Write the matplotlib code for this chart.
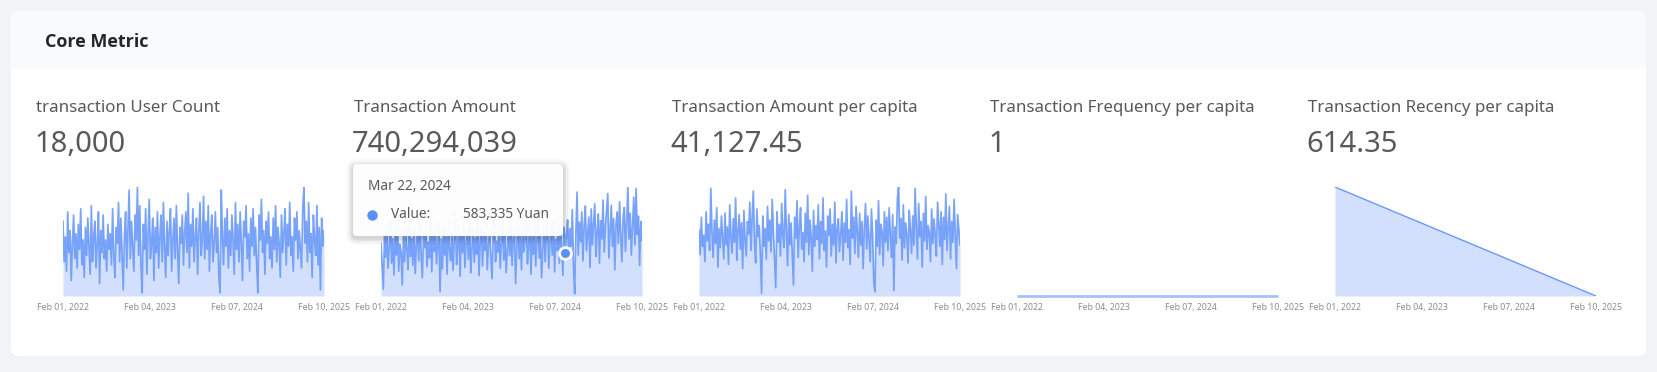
import numpy as np
import pandas as pd
import matplotlib.pyplot as plt
from matplotlib.patches import FancyBboxPatch, Rectangle

W, H = 1658, 372

# ---- data ----
start_date = "2022-02-01"
end_date = "2025-02-10"
tick_dates = ["2022-02-01", "2023-02-04", "2024-02-07", "2025-02-10"]

titles = ["transaction User Count", "Transaction Amount", "Transaction Amount per capita",
          "Transaction Frequency per capita", "Transaction Recency per capita"]
totals = ["18,000", "740,294,039", "41,127.45", "1", "614.35"]

user_count = [
    24, 11, 19, 8, 27, 14, 21, 5, 17, 26, 12, 20, 9, 23, 15, 28, 10, 18, 6, 22,
    13, 25, 16, 7, 29, 11, 19, 24, 9, 17, 27, 4, 21, 14, 26, 12, 18, 8, 23, 15,
    20, 10, 28, 13, 6, 22, 17, 30, 11, 25, 14, 2, 19, 27, 9, 21, 34, 12, 24, 16,
    8, 26, 18, 35, 13, 29, 10, 1, 23, 15, 28, 7, 20, 31, 12, 17, 25, 5, 22, 14,
    27, 9, 19, 26, 11, 30, 16, 6, 24, 13, 21, 28, 8, 18, 25, 12, 29, 15, 4, 22,
    17, 26, 10, 20, 27, 14, 33, 9, 23, 16, 28, 11, 19, 25, 7, 21, 30, 13, 18, 32,
    12, 24, 15, 29, 8, 20, 26, 11, 17, 27, 14, 22, 6, 1, 34, 19, 10, 25, 16, 28,
    9, 21, 13, 26, 18, 7, 30, 15, 23, 11, 27, 17, 5, 24, 19, 29, 12, 20, 8, 25,
    16, 28, 13, 22, 10, 1, 26, 18, 31, 14, 21, 7, 24, 17, 27, 12, 19, 9, 25, 15,
    29, 11, 22, 17, 6, 26, 14, 20, 28, 10, 23, 16, 30, 13, 19, 8, 25, 18, 27, 12,
    21, 15, 9, 28, 35, 17, 24, 11, 30, 14, 20, 6, 26, 18, 13, 29, 10, 22, 2, 25, 16, 21,
]

# transaction amount, thousand Yuan
amount_k = [
    720, 410, 95, 860, 530, 940, 380, 670, 1010, 450, 780, 290, 890, 560, 980, 340, 710, 600, 150, 830,
    470, 920, 620, 360, 1050, 540, 790, 420, 960, 310, 700, 870, 480, 1120, 580, 250, 820, 660, 990, 400,
    740, 520, 1080, 330, 860, 610, 930, 440, 690, 1000, 60, 780, 370, 950, 560, 820, 300, 1040, 640, 480,
    900, 350, 760, 1130, 430, 680, 970, 270, 840, 590, 1010, 390, 720, 880, 500, 1060, 320, 650, 920, 460,
    800, 570, 1090, 280, 730, 950, 410, 860, 620, 1020, 360, 690, 910, 540, 240, 830, 1070, 470, 750, 600,
    980, 380, 710, 1110, 490, 870, 320, 640, 940, 550, 1000, 420, 780, 890, 170, 670, 1050, 510, 820, 360,
    930, 600, 760, 1080, 440, 690, 1000, 300, 850, 570, 960, 410, 730, 1120, 520, 880, 250, 640, 990, 470,
    810, 1060, 380, 720, 930, 560, 1010, 330, 770, 620, 1100, 450, 860, 690, 280, 940, 583.335, 830, 1040, 500,
    920, 680, 1180, 410, 30, 870, 1420, 560, 1010, 740, 1150, 480, 960, 1230, 620, 850, 1080, 390, 1190, 700,
    980, 1260, 540, 870, 1120, 450, 1030, 780, 1310, 600, 940, 1170, 1400, 520, 890, 1240, 680, 1060, 360, 980,
    1150, 720, 1290, 830, 470, 1080, 1210, 610, 1000, 1490, 780, 1130, 560, 950, 1350, 700, 1470, 840, 1090, 420, 1020, 760,
]

# amount per capita, thousand Yuan
per_capita_k = [
    48, 30, 57, 36, 44, 25, 61, 40, 52, 33, 78, 46, 28, 55, 38, 64, 21, 49, 35, 58,
    42, 27, 60, 37, 50, 23, 66, 44, 31, 56, 39, 71, 26, 47, 59, 34, 53, 20, 62, 41,
    29, 54, 45, 68, 33, 57, 76, 38, 24, 63, 43, 51, 30, 2, 58, 36, 49, 27, 65, 40,
    55, 32, 70, 46, 26, 6, 61, 39, 52, 29, 67, 44, 35, 77, 48, 22, 59, 37, 53, 31,
    8, 57, 42, 69, 28, 50, 64, 34, 46, 25, 60, 39, 73, 30, 55, 43, 18, 62, 36, 51,
    41, 66, 27, 54, 38, 71, 33, 47, 21, 58, 44, 63, 29, 52, 37, 68, 24, 49, 56, 32,
    45, 61, 26, 53, 39, 70, 35, 48, 23, 76, 42, 57, 31, 65, 46, 28, 60, 37, 54, 20,
    50, 67, 34, 58, 41, 25, 63, 44, 10, 3, 55, 36, 69, 30, 52, 47, 22, 61, 39, 57,
    33, 64, 45, 28, 59, 4, 50, 38, 71, 79, 42, 56, 26, 66, 35, 53, 44, 24, 62, 48,
    31, 58, 37, 78, 49, 27, 67, 43, 54, 21, 60, 40, 72, 34, 51, 46, 25, 63, 38, 56,
    44, 29, 68, 52, 36, 61, 23, 57, 41, 74, 33, 49, 65, 27, 54, 39, 70, 45, 20, 59, 48, 37,
]

frequency = [1, 1]          # at start / end date
recency_days = [1105, 0]    # at start / end date

tooltip_date = "2024-03-22"

# ---- figure ----
BLUE = "#5B8FF9"
plt.rcParams["font.family"] = ["Noto Sans", "DejaVu Sans"]

fig = plt.figure(figsize=(W / 100, H / 100), dpi=100)
fig.patch.set_facecolor("#f2f3f7")

bg = fig.add_axes([0, 0, 1, 1], zorder=0)
bg.set_xlim(0, W)
bg.set_ylim(H, 0)
bg.axis("off")

bg.add_patch(FancyBboxPatch((11, 11), 1635, 345, boxstyle="round,pad=0,rounding_size=8",
                            fc="white", ec="none"))
bg.add_patch(FancyBboxPatch((11, 11), 1635, 58, boxstyle="round,pad=0,rounding_size=8",
                            fc="#f9fafc", ec="none"))
bg.add_patch(Rectangle((11, 50), 1635, 19, fc="#f9fafc", ec="none"))
bg.text(45, 42, "Core Metric", fontsize=13, fontweight="bold", color="#262626", va="center",
        family=["Open Sans", "DejaVu Sans"])

for i in range(5):
    bg.text(36 + i * 318, 108, titles[i], fontsize=12.2, color="#595959", va="center")
    bg.text(34 + i * 318, 145, totals[i], fontsize=21, color="#595959", va="center")

d5 = pd.date_range(start_date, end_date, freq="5D")
ends = pd.to_datetime([start_date, end_date])
series = [
    (d5, np.array(user_count, dtype=float)),
    (d5, np.array(amount_k) * 1000),
    (d5, np.array(per_capita_k) * 1000),
    (ends, np.array(frequency, dtype=float)),
    (ends, np.array(recency_days, dtype=float)),
]
ticks = pd.to_datetime(tick_dates)

axes = []
for i, (x, y) in enumerate(series):
    left = 63 + i * 318
    ax = fig.add_axes([left / W, (H - 296) / H, 261 / W, 109 / H], zorder=2)
    ax.patch.set_alpha(0)
    if i == 3:
        ax.plot(x, y, color=BLUE, lw=2.0, alpha=0.55, clip_on=False, solid_capstyle="butt")
        ax.set_ylim(1, 2)
    elif i == 4:
        ax.fill_between(x, y, 0, color=BLUE, alpha=0.27, lw=0)
        ax.plot(x, y, color=BLUE, lw=1.0, alpha=0.9)
        ax.set_ylim(0, y.max())
    else:
        ax.fill_between(x, y, 0, color=BLUE, alpha=0.27, lw=0)
        ax.plot(x, y, color=BLUE, lw=1.25, alpha=0.8)
        ax.set_ylim(0, y.max())
    ax.set_xlim(ends[0], ends[1])
    ax.set_xticks(ticks)
    ax.set_xticklabels([t.strftime("%b %d, %Y") for t in ticks], fontsize=6.3, color="#8c8c8c")
    ax.tick_params(axis="x", length=0, pad=5)
    ax.set_yticks([])
    for s in ax.spines.values():
        s.set_visible(False)
    axes.append(ax)

# hovered point on the amount chart
tip_x = pd.Timestamp(tooltip_date)
tip_val = series[1][1][list(d5).index(tip_x)]
axes[1].plot([tip_x], [tip_val], "o", ms=8.5, mfc=BLUE, mec="white", mew=2, zorder=5, clip_on=False)

# tooltip
fg = fig.add_axes([0, 0, 1, 1], zorder=10)
fg.set_xlim(0, W)
fg.set_ylim(H, 0)
fg.axis("off")
for k, a in [(7, 0.025), (5, 0.035), (3, 0.05), (1.5, 0.06)]:
    fg.add_patch(FancyBboxPatch((353 - k, 164 - k + 2), 210 + 2 * k, 72 + 2 * k,
                                boxstyle="round,pad=0,rounding_size=%g" % (4 + k),
                                fc="black", ec="none", alpha=a))
fg.add_patch(FancyBboxPatch((353, 164), 210, 72, boxstyle="round,pad=0,rounding_size=4",
                            fc="white", ec="none", alpha=0.96))
fg.text(368, 186, tip_x.strftime("%b %d, %Y"), fontsize=9.8, color="#595959", va="center")
fg.plot([372.5], [215], "o", ms=6.5, color=BLUE)
fg.text(391, 215, "Value:", fontsize=9.8, color="#595959", va="center")
fg.text(549, 215, f"{tip_val:,.0f} Yuan", fontsize=9.8, color="#595959", va="center", ha="right")

fig.savefig("out.png", dpi=100, facecolor=fig.get_facecolor())
